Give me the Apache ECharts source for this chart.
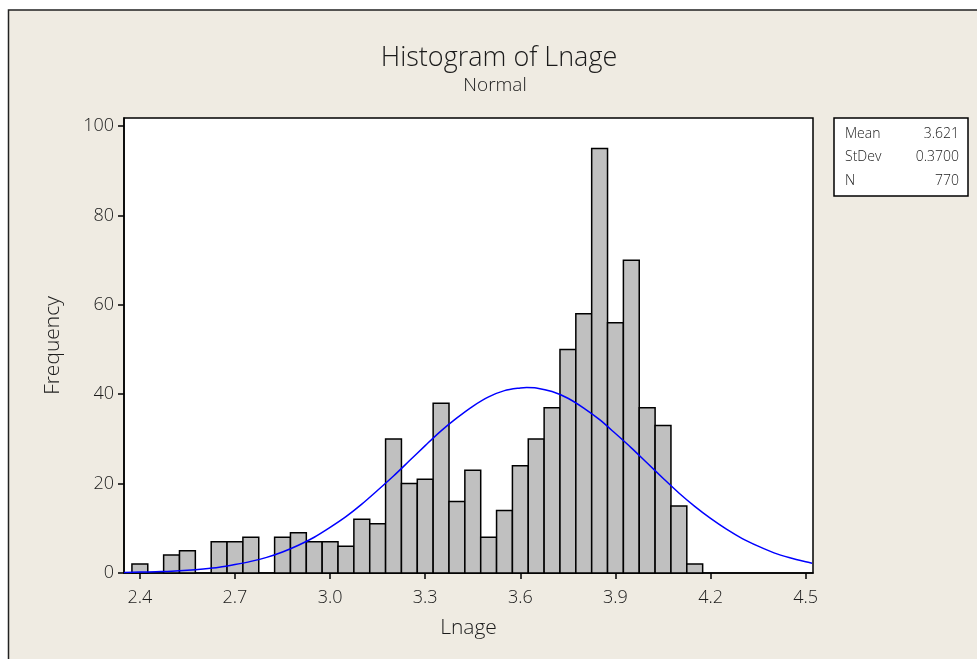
<!DOCTYPE html>
<html>
<head>
<meta charset="utf-8">
<script src="https://cdn.jsdelivr.net/npm/echarts@6/dist/echarts.min.js"></script>
<style>
  html, body { margin: 0; padding: 0; background: #fff; }
  #chart { width: 977px; height: 659px; }
</style>
</head>
<body>
<div id="chart"></div>
<script>
// bin centres (width 0.05) and counts
const binCenters = [2.40, 2.45, 2.50, 2.55, 2.60, 2.65, 2.70, 2.75, 2.80, 2.85, 2.90, 2.95,
  3.00, 3.05, 3.10, 3.15, 3.20, 3.25, 3.30, 3.35, 3.40, 3.45, 3.50, 3.55,
  3.60, 3.65, 3.70, 3.75, 3.80, 3.85, 3.90, 3.95, 4.00, 4.05, 4.10, 4.15];
const counts = [2, 0, 4, 5, 0, 7, 7, 8, 0, 8, 9, 7,
  7, 6, 12, 11, 30, 20, 21, 38, 16, 23, 8, 14,
  24, 30, 37, 50, 58, 95, 56, 70, 37, 33, 15, 2];
const binWidth = 0.05;

// fitted normal curve
const curveX = [2.35, 2.40, 2.45, 2.50, 2.55, 2.60, 2.65, 2.70, 2.75, 2.80, 2.85, 2.90,
  2.95, 3.00, 3.05, 3.10, 3.15, 3.20, 3.25, 3.30, 3.35, 3.40, 3.45, 3.50,
  3.55, 3.60, 3.62, 3.65, 3.70, 3.75, 3.80, 3.85, 3.90, 3.95, 4.00, 4.05, 4.10,
  4.15, 4.20, 4.25, 4.30, 4.35, 4.40, 4.45, 4.50, 4.52];
const curveY = [0.1, 0.2, 0.3, 0.4, 0.6, 0.9, 1.3, 1.9, 2.6, 3.5, 4.7, 6.2,
  8.0, 10.2, 12.6, 15.4, 18.5, 21.7, 25.1, 28.5, 31.8, 34.7, 37.3, 39.4,
  40.8, 41.4, 41.5, 41.4, 40.6, 39.1, 36.9, 34.3, 31.2, 28.0, 24.6, 21.2, 17.9,
  14.9, 12.2, 9.8, 7.7, 6.0, 4.5, 3.4, 2.5, 2.2];

const xTicks = [2.4, 2.7, 3.0, 3.3, 3.6, 3.9, 4.2, 4.5];
const yTicks = [0, 20, 40, 60, 80, 100];
const statNames = ["Mean", "StDev", "N"];
const statValues = ["3.621", "0.3700", "770"];

const FONT = "'Open Sans', 'DejaVu Sans', sans-serif";
const TXT = "#1a1a1a";

const chart = echarts.init(document.getElementById("chart"));

const statTexts = [];
statNames.forEach((n, i) => {
  statTexts.push({
    type: "text", z: 11,
    style: { text: n, x: 845, y: 134 + i * 23.5, font: "300 14px " + FONT, fill: TXT, textVerticalAlign: "middle" }
  });
  statTexts.push({
    type: "text", z: 11,
    style: { text: statValues[i], x: 959, y: 134 + i * 23.5, font: "300 14px " + FONT, fill: TXT,
      textAlign: "right", textVerticalAlign: "middle" }
  });
});

chart.setOption({
  backgroundColor: "#fff",
  animation: false,
  graphic: [
    {
      type: "rect", z: -10, silent: true,
      shape: { x: 8.5, y: 10, width: 1000, height: 700 },
      style: { fill: "#efebe2", stroke: "#222", lineWidth: 1.5 }
    },
    {
      type: "text", z: 10,
      style: { text: "Histogram of Lnage", x: 499, y: 58, font: "300 27px " + FONT, fill: TXT,
        textAlign: "center", textVerticalAlign: "middle" }
    },
    {
      type: "text", z: 10,
      style: { text: "Normal", x: 495, y: 86, font: "300 19px " + FONT, fill: TXT,
        textAlign: "center", textVerticalAlign: "middle" }
    },
    {
      type: "rect", z: 10,
      shape: { x: 834, y: 118, width: 134, height: 78 },
      style: { fill: "#fff", stroke: "#000", lineWidth: 1.5 }
    },
    ...statTexts
  ],
  grid: {
    left: 124, top: 118, width: 689, height: 455,
    show: true, backgroundColor: "#fff", borderColor: "#000", borderWidth: 1.5
  },
  xAxis: {
    type: "value", min: 2.35, max: 4.523,
    name: "Lnage", nameLocation: "middle", nameGap: 45,
    nameTextStyle: { fontFamily: FONT, fontWeight: 300, fontSize: 21, color: TXT },
    axisLine: { show: true, onZero: false, lineStyle: { color: "#000", width: 1.5 } },
    axisTick: { show: true, length: 6, lineStyle: { color: "#000", width: 1.5 }, customValues: xTicks },
    axisLabel: {
      customValues: xTicks, margin: 16, fontFamily: FONT, fontWeight: 300, fontSize: 18, color: TXT,
      formatter: v => v.toFixed(1)
    },
    splitLine: { show: false }
  },
  yAxis: {
    type: "value", min: 0, max: 101.8,
    name: "Frequency", nameLocation: "middle", nameGap: 60,
    nameTextStyle: { fontFamily: FONT, fontWeight: 300, fontSize: 21, color: TXT },
    axisLine: { show: true, lineStyle: { color: "#000", width: 1.5 } },
    axisTick: { show: true, length: 6, lineStyle: { color: "#000", width: 1.5 }, customValues: yTicks },
    axisLabel: { customValues: yTicks, margin: 10, fontFamily: FONT, fontWeight: 300, fontSize: 18, color: TXT },
    splitLine: { show: false }
  },
  series: [
    {
      type: "custom",
      data: binCenters.map((c, i) => [c, counts[i]]),
      renderItem: function (params, api) {
        const c = api.value(0), n = api.value(1);
        if (!n) return null;
        const p0 = api.coord([c - binWidth / 2, n]);
        const p1 = api.coord([c + binWidth / 2, 0]);
        return {
          type: "rect",
          shape: { x: p0[0], y: p0[1], width: p1[0] - p0[0], height: p1[1] - p0[1] },
          style: { fill: "#c0c0c0", stroke: "#000", lineWidth: 1.5 }
        };
      }
    },
    {
      type: "line",
      data: curveX.map((x, i) => [x, curveY[i]]),
      smooth: 0.3, showSymbol: false, z: 5,
      lineStyle: { color: "#0000ff", width: 1.5 }
    }
  ]
});
</script>
</body>
</html>
